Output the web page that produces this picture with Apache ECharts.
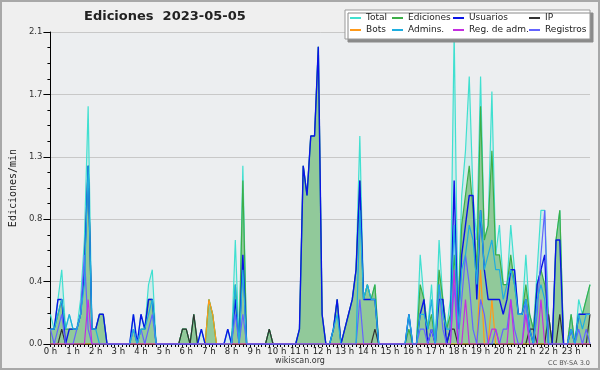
<!DOCTYPE html>
<html><head><meta charset="utf-8">
<script src="https://cdn.jsdelivr.net/npm/echarts@6/dist/echarts.min.js"></script>
<style>html,body{margin:0;padding:0;background:#efefef}#c{width:600px;height:370px}</style>
</head><body><div id="c"></div>
<script>
// 10-minute bins, 0:00 .. 23:50 (edits per minute)
const total = [
 .2,.1,.3,.5,.1,.2,  .1,.1,.3,.7,1.6,.1,  .1,.2,.2,0,0,0,  0,0,0,0,.2,0,
 .2,.1,.4,.5,0,0,  0,0,0,0,0,.1,  .1,0,.2,0,.1,0,  .3,.2,0,0,0,.1,
 0,.7,0,1.2,0,0,  0,0,0,0,.1,0,  0,0,0,0,0,0,  .1,1.2,1.0,1.4,1.4,2.0,
 .2,0,0,.1,.3,0,  .1,.2,.3,.5,1.4,.3,  .4,.3,.4,0,0,0,  0,0,0,0,0,.2,
 0,0,.6,.3,.1,.4,  0,.7,.3,.1,.3,2.1,  .2,1.0,1.3,1.8,1.0,.7,  1.8,.7,.8,1.7,.6,.8,
 .4,.4,.8,.5,.2,.2,  .6,.2,.1,.5,.9,.9,  .2,0,.7,.9,0,0,  .2,0,.3,.2,.3,.4
];
const ediciones = [
 .1,.1,.2,.3,.1,.1,  .1,.1,.2,.5,1.2,.1,  .1,.2,.2,0,0,0,  0,0,0,0,.1,0,
 .1,.1,.3,.3,0,0,  0,0,0,0,0,.1,  .1,0,.2,0,0,0,  .3,.2,0,0,0,0,
 0,.4,0,1.1,0,0,  0,0,0,0,.1,0,  0,0,0,0,0,0,  .1,1.2,1.0,1.4,1.4,2.0,
 .2,0,0,.1,.3,0,  .1,.2,.3,.5,1.1,.3,  .4,.3,.4,0,0,0,  0,0,0,0,0,.1,
 0,0,.4,.3,.1,.2,  0,.5,.3,.1,.2,.6,  .2,.8,1.0,1.2,.9,.5,  1.6,.7,.8,1.3,.6,.6,
 .4,.4,.6,.4,.2,.2,  .4,.2,.1,.4,.5,.4,  .2,0,.7,.9,0,0,  .2,0,.2,.2,.3,.4
];
const usuarios = [
 .1,.1,.3,.3,0,.1,  .1,.1,.2,.5,1.2,.1,  .1,.2,.2,0,0,0,  0,0,0,0,.2,0,
 .2,.1,.3,.3,0,0,  0,0,0,0,0,0,  0,0,0,0,.1,0,  0,0,0,0,0,.1,
 0,.3,0,.6,0,0,  0,0,0,0,0,0,  0,0,0,0,0,0,  .1,1.2,1.0,1.4,1.4,2.0,
 .2,0,0,.1,.3,0,  .1,.2,.3,.5,1.1,.3,  .3,.3,.3,0,0,0,  0,0,0,0,0,.2,
 0,0,.2,.3,0,.1,  0,.3,.3,0,.1,1.1,  .1,.6,.8,1.0,1.0,.3,  .9,.5,.3,.3,.3,.3,
 .2,.3,.5,.5,.2,.2,  .3,.1,0,.4,.5,.6,  0,0,.7,.7,0,0,  .1,0,.2,.2,.2,.2
];
const ip = [
 0,0,0,.1,0,0,  0,0,0,0,0,0,  0,0,0,0,0,0,  0,0,0,0,0,0,
 0,0,0,0,0,0,  0,0,0,0,0,.1,  .1,0,.2,0,0,0,  0,0,0,0,0,0,
 0,0,0,0,0,0,  0,0,0,0,.1,0,  0,0,0,0,0,0,  0,0,0,0,0,0,
 0,0,0,0,0,0,  0,0,0,0,0,0,  0,0,.1,0,0,0,  0,0,0,0,0,0,
 0,0,0,0,0,0,  0,0,0,0,.1,.1,  0,0,0,0,0,0,  0,0,0,0,0,0,
 0,0,0,0,0,0,  0,.1,.1,0,0,0,  .2,0,0,.2,0,0,  0,0,0,0,0,.2
];
const bots = [
 0,0,0,0,0,0,  0,0,0,0,0,0,  0,0,0,0,0,0,  0,0,0,0,0,0,
 0,0,0,0,0,0,  0,0,0,0,0,0,  0,0,0,0,0,0,  .3,.2,0,0,0,0,
 0,0,0,0,0,0,  0,0,0,0,0,0,  0,0,0,0,0,0,  0,0,0,0,0,0,
 0,0,0,0,0,0,  0,0,0,0,0,0,  0,0,0,0,0,0,  0,0,0,0,0,0,
 0,0,0,0,0,0,  0,0,0,0,0,0,  0,0,0,0,0,0,  .5,0,0,.3,0,0,
 0,0,0,0,0,0,  0,0,0,0,0,0,  0,0,0,0,0,0,  0,0,0,0,0,0
];
const admins = [
 .1,.1,.2,.3,.1,.2,  .1,.1,.2,.4,1.2,.1,  .1,0,0,0,0,0,  0,0,0,0,.1,0,
 .1,.1,.2,.3,0,0,  0,0,0,0,0,0,  0,0,0,0,0,0,  0,0,0,0,0,0,
 0,.4,0,.5,0,0,  0,0,0,0,0,0,  0,0,0,0,0,0,  0,0,0,0,0,0,
 0,0,0,.1,.2,0,  0,0,0,0,.9,.3,  .4,.3,.3,0,0,0,  0,0,0,0,0,.2,
 0,0,.2,.2,.1,.3,  0,.4,.2,.1,.1,.8,  .1,.5,.6,.8,.7,.4,  .9,.5,.6,.7,.5,.5,
 .3,.4,.5,.4,.2,.2,  .3,.1,0,.3,.4,.3,  0,0,0,0,0,0,  .1,0,.2,.1,.2,.2
];
const regAdm = [
 0,0,0,0,0,0,  0,0,0,0,.3,0,  0,0,0,0,0,0,  0,0,0,0,0,0,
 0,0,0,0,0,0,  0,0,0,0,0,0,  0,0,0,0,0,0,  0,0,0,0,0,0,
 0,0,0,0,0,0,  0,0,0,0,0,0,  0,0,0,0,0,0,  0,0,0,0,0,0,
 0,0,0,0,0,0,  0,0,0,0,0,0,  0,0,0,0,0,0,  0,0,0,0,0,0,
 0,0,0,0,0,0,  0,0,0,0,0,.5,  0,0,.3,0,0,0,  0,0,0,.1,.1,0,
 0,0,.3,0,0,0,  .2,0,0,0,.3,0,  0,0,0,0,0,0,  0,0,0,0,0,0
];
const registros = [
 .1,0,.1,.2,0,0,  0,.1,.2,.6,.1,0,  0,0,0,0,0,0,  0,0,0,0,.1,0,
 .1,0,.1,.2,0,0,  0,0,0,0,0,0,  0,0,0,0,0,0,  0,0,0,0,0,0,
 0,.2,0,.2,0,0,  0,0,0,0,0,0,  0,0,0,0,0,0,  0,0,0,0,0,0,
 0,0,0,0,0,0,  0,0,0,0,.3,0,  0,0,0,0,0,0,  0,0,0,0,0,0,
 0,0,.1,.1,0,.1,  0,.4,.1,0,0,.4,  0,.3,.6,.4,.1,0,  .3,.2,0,0,.1,0,
 .1,.1,.3,.1,0,0,  .3,0,0,.2,.6,.9,  0,0,0,0,0,0,  .1,0,.1,0,.1,0
];
const yTicks = ['0.0','0.4','0.8','1.3','1.7','2.1'];

const categories = [];
for (let h = 0; h < 24; h++) for (let m = 0; m < 60; m += 10) categories.push(h + ':' + (m < 10 ? '0' : '') + m);

const FONT = 'DejaVu Sans';
function line(name, data, color, width, area) {
  const s = {
    name, type: 'line', data, symbol: 'none', smooth: false,
    color, itemStyle: {color},
    lineStyle: {color, width},
    emphasis: {disabled: true}, animation: false
  };
  if (area) s.areaStyle = {color: area, opacity: 1};
  return s;
}
const legendCommon = {
  orient: 'vertical', top: 12, itemWidth: 11, itemHeight: 2, icon: 'rect',
  itemGap: 0, padding: 0, z: 20, selectedMode: false,
  textStyle: {fontFamily: FONT, fontSize: 9, color: '#222', lineHeight: 12}
};

const chart = echarts.init(document.getElementById('c'));
chart.setOption({
  animation: false,
  backgroundColor: '#efefef',
  title: {
    text: 'Ediciones  2023-05-05', left: 84, top: 10, padding: 0,
    textStyle: {fontFamily: FONT, fontWeight: 'bold', fontSize: 13, color: '#222'}
  },
  legend: [
    Object.assign({}, legendCommon, {left: 350, data: ['Total', 'Bots']}),
    Object.assign({}, legendCommon, {left: 392, data: ['Ediciones', 'Admins.']}),
    Object.assign({}, legendCommon, {left: 453, data: ['Usuarios', 'Reg. de adm.']}),
    Object.assign({}, legendCommon, {left: 529, data: ['IP', 'Registros']})
  ],
  grid: {left: 46, right: 10, top: 32, bottom: 26, show: true, backgroundColor: '#eceef0', borderWidth: 0},
  xAxis: {
    type: 'category', data: categories, boundaryGap: false,
    axisLine: {lineStyle: {color: '#000', width: 1}},
    axisTick: {interval: 0, length: 3, lineStyle: {color: '#000'}},
    axisLabel: {
      interval: 5, margin: 3, fontFamily: FONT, fontSize: 8.5, color: '#222',
      formatter: v => parseInt(v, 10) + ' h'
    },
    splitLine: {show: false}
  },
  yAxis: {
    type: 'value', min: 0, max: 2.1, interval: 0.42,
    name: 'Ediciones/min', nameLocation: 'middle', nameGap: 29,
    nameTextStyle: {fontFamily: 'DejaVu Sans Mono', fontSize: 10, color: '#222'},
    axisLine: {show: true, lineStyle: {color: '#000', width: 1}},
    axisTick: {show: true, length: 7, lineStyle: {color: '#000'}},
    minorTick: {show: true, splitNumber: 4, length: 3, lineStyle: {color: '#000'}},
    axisLabel: {
      margin: 8, fontFamily: FONT, fontSize: 8.5, color: '#333',
      formatter: v => yTicks[Math.round(v / 0.42)]
    },
    splitLine: {show: true, lineStyle: {color: '#c8c8c8', width: 1}}
  },
  series: [
    line('Total', total, '#40e0d0', 1.2, 'rgba(64,224,208,0.15)'),
    line('Ediciones', ediciones, '#3cae48', 1.2, '#91c99a'),
    line('IP', ip, '#333333', 1.2),
    line('Bots', bots, '#ff9a1a', 1.2),
    line('Usuarios', usuarios, '#0a14e6', 1.4),
    line('Registros', registros, '#6464ff', 1.2),
    line('Admins.', admins, '#1eaee0', 1.2),
    line('Reg. de adm.', regAdm, '#c42ee0', 1.2)
  ],
  graphic: [
    {type: 'rect', z: 15, shape: {x: 345, y: 10, width: 245, height: 29},
     style: {fill: '#ffffff', stroke: '#999', lineWidth: 1, shadowColor: '#8a8a8a', shadowOffsetX: 3, shadowOffsetY: 3, shadowBlur: 0}},
    {type: 'text', z: 15, x: 300, y: 361,
     style: {text: 'wikiscan.org', font: '8px "DejaVu Sans"', fill: '#333', textAlign: 'center', textVerticalAlign: 'middle'}},
    {type: 'text', z: 15, x: 590, y: 363,
     style: {text: 'CC BY-SA 3.0', font: '6.5px "DejaVu Sans"', fill: '#555', textAlign: 'right', textVerticalAlign: 'middle'}},
    {type: 'rect', z: 30, silent: true, shape: {x: 1, y: 1, width: 598, height: 368},
     style: {fill: 'none', stroke: '#a8a8a8', lineWidth: 2}}
  ]
});
</script></body></html>
